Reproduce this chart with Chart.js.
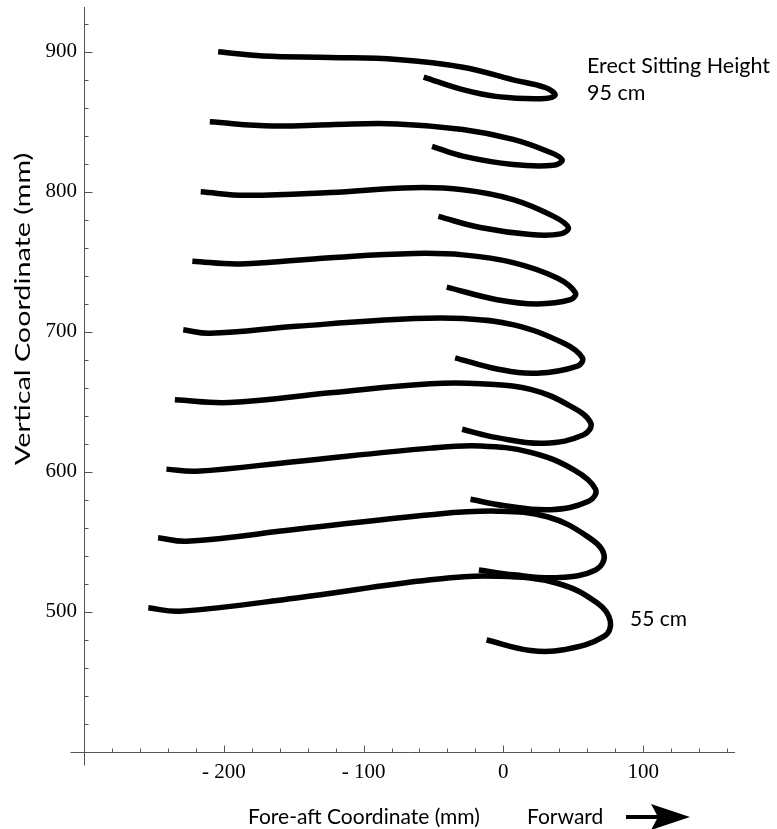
<!DOCTYPE html>
<html>
<head>
<meta charset="utf-8">
<title>Seated reach trajectories</title>
<script src="https://cdn.jsdelivr.net/npm/chart.js@4.4.1/dist/chart.umd.min.js"></script>
<style>
  html, body { margin: 0; padding: 0; background: #fff; }
  #wrap { width: 777px; height: 829px; }
</style>
</head>
<body>
<div id="wrap"><canvas id="chart" width="777" height="829"></canvas></div>
<script>
// tick values
const xMajor = [-200, -100, 0, 100];
const yMajor = [500, 600, 700, 800, 900];
const xMinor = [-280, -260, -240, -220, -180, -160, -140, -120, -80, -60, -40, -20, 20, 40, 60, 80, 120, 140, 160];
const yMinor = [420, 440, 460, 480, 520, 540, 560, 580, 620, 640, 660, 680, 720, 740, 760, 780, 820, 840, 860, 880, 920];

// one trajectory per erect sitting height (cm), fore-aft x / vertical y in mm
const heights = [95, 90, 85, 80, 75, 70, 65, 60, 55];

const c95x = [-204, -172, -124, -76, -29, 7, 30, 37, 27, -4, -29, -57];
const c95y = [900, 897, 896, 894.5, 889, 880, 874.5, 869, 866.5, 868, 873, 882];
const c90x = [-210, -165, -124, -76, -29, 7, 31.5, 42, 36, 7, -29, -51];
const c90y = [850, 847, 848, 848.5, 844.5, 837.5, 829, 823, 819, 819.5, 825.5, 832.5];
const c85x = [-216.5, -184, -124, -64.5, -29, 7, 36, 46.5, 41, 19.5, -16.5, -46.5];
const c85y = [800, 797.5, 799.5, 803, 801.5, 794.5, 782.5, 774.5, 770, 769.5, 774.5, 782.5];
const c80x = [-222.5, -188.5, -124, -64, -29, 7, 38.5, 51.5, 48, 24, -4.5, -40.5];
const c80y = [750.5, 748.5, 753, 756, 755, 749.5, 738.5, 728, 723, 720, 723, 732];
const c75x = [-229, -210, -148, -64, -28.5, 7.5, 43, 56.5, 53, 24, -4.5, -34.5];
const c75y = [701.5, 699, 704, 709.5, 709.5, 705, 692, 681.5, 675.5, 670.5, 673.5, 681.5];
const c70x = [-235, -196, -124, -52, -16.5, 19.5, 48, 62.5, 57.5, 29, -4.5, -29.5];
const c70y = [651.5, 649.5, 656.5, 663, 663, 659, 647, 635, 626.5, 620.5, 624.5, 630.5];
const c65x = [-241, -219.5, -148, -52, -16.5, 19.5, 50.5, 66, 61, 33.5, 0, -23.5];
const c65y = [602, 600.5, 607.5, 617, 618.5, 614, 601.5, 587.5, 579, 573, 576, 580.5];
const c60x = [-247, -226.5, -148, -52, -4.5, 31.5, 60, 72, 66, 38.5, 7.5, -17.5];
const c60y = [553, 550.5, 559, 569.5, 572, 568, 554, 541, 530, 524.5, 526.5, 530];
const c55x = [-254, -231.5, -148, -52, -4.5, 38.5, 67, 76.5, 72, 43, 19.5, -12];
const c55y = [503, 500.5, 510, 523, 525.5, 520.5, 506.5, 493.5, 482.5, 473, 472.5, 480];

const curvesX = [c95x, c90x, c85x, c80x, c75x, c70x, c65x, c60x, c55x];
const curvesY = [c95y, c90y, c85y, c80y, c75y, c70y, c65y, c60y, c55y];

const axisColor = '#555';
const sansFont  = "21px Lato, 'Open Sans', sans-serif";

const datasets = heights.map((h, i) => ({
  label: h + ' cm',
  data: curvesX[i].map((x, j) => ({ x, y: curvesY[i][j] })),
  showLine: true,
  borderColor: '#000',
  borderWidth: 5.5,
  borderJoinStyle: 'round',
  pointRadius: 0,
  pointHoverRadius: 0,
  tension: 0.4,
  fill: false,
}));

// inward tick marks, axis stubs past the origin, titles and notes
const overlay = {
  id: 'overlay',
  afterDraw(chart) {
    const { ctx } = chart;
    const xs = chart.scales.x, ys = chart.scales.y;
    const px = v => Math.round(xs.getPixelForValue(v)) + 0.5;
    const py = v => Math.round(ys.getPixelForValue(v)) + 0.5;
    const x0 = px(-300), y0 = py(400);

    ctx.save();
    ctx.strokeStyle = axisColor;
    ctx.lineWidth = 1;
    ctx.beginPath();
    ctx.moveTo(x0, y0); ctx.lineTo(x0, py(391));
    ctx.moveTo(x0, y0); ctx.lineTo(px(-310), y0);
    xMajor.forEach(v => { ctx.moveTo(px(v), y0); ctx.lineTo(px(v), y0 - 7); });
    xMinor.forEach(v => { ctx.moveTo(px(v), y0); ctx.lineTo(px(v), y0 - 4); });
    yMajor.forEach(v => { ctx.moveTo(x0, py(v)); ctx.lineTo(x0 + 8, py(v)); });
    yMinor.forEach(v => { ctx.moveTo(x0, py(v)); ctx.lineTo(x0 + 4, py(v)); });
    ctx.stroke();

    ctx.fillStyle = '#000';
    ctx.textBaseline = 'alphabetic';
    ctx.textAlign = 'left';
    ctx.font = "21.5px Lato, 'Open Sans', sans-serif";
    ctx.fillText('Erect Sitting Height', 587, 73);
    ctx.fillText('95 cm', 587, 100);
    ctx.font = sansFont;
    ctx.fillText('55 cm', 630, 626);

    ctx.fillText('Fore-aft Coordinate (mm)', 248, 824);
    ctx.fillText('Forward', 527, 824);

    // arrow after "Forward"
    ctx.lineWidth = 4;
    ctx.strokeStyle = '#000';
    ctx.beginPath();
    ctx.moveTo(626, 817); ctx.lineTo(660, 817);
    ctx.stroke();
    ctx.beginPath();
    ctx.moveTo(651, 804); ctx.lineTo(690, 817); ctx.lineTo(651, 830);
    ctx.lineTo(658, 817);
    ctx.closePath();
    ctx.fill();

    // y title, set wider along its run as in the original
    ctx.translate(30, 465);
    ctx.rotate(-Math.PI / 2);
    ctx.scale(1.37, 1);
    ctx.fillText('Vertical Coordinate (mm)', 0, 0);
    ctx.restore();
  }
};

const tickFont = { family: "'Liberation Serif', 'Times New Roman', serif", size: 21 };

new Chart(document.getElementById('chart').getContext('2d'), {
  type: 'scatter',
  data: { datasets },
  options: {
    responsive: false,
    animation: false,
    events: [],
    layout: { padding: { top: 7, right: 43, bottom: 0, left: 0 } },
    plugins: { legend: { display: false }, tooltip: { enabled: false } },
    scales: {
      x: {
        type: 'linear',
        position: 'bottom',
        min: -300,
        max: 165,
        afterBuildTicks: s => { s.ticks = xMajor.map(value => ({ value })); },
        afterFit: s => { s.height = 77; s.paddingLeft = 0; s.paddingRight = 0; },
        grid: { display: false, drawTicks: false },
        border: { display: true, color: axisColor, width: 1 },
        ticks: {
          color: '#000',
          font: tickFont,
          padding: 8,
          maxRotation: 0,
          autoSkip: false,
          callback: v => v < 0 ? '- ' + Math.abs(v) : String(v),
        },
      },
      y: {
        type: 'linear',
        position: 'left',
        min: 400,
        max: 932,
        afterBuildTicks: s => { s.ticks = yMajor.map(value => ({ value })); },
        afterFit: s => { s.width = 84; s.paddingTop = 0; s.paddingBottom = 0; },
        grid: { display: false, drawTicks: false },
        border: { display: true, color: axisColor, width: 1 },
        ticks: {
          color: '#000',
          font: tickFont,
          padding: 7,
          autoSkip: false,
          callback: v => String(v),
        },
      },
    },
  },
  plugins: [overlay],
});
</script>
</body>
</html>
